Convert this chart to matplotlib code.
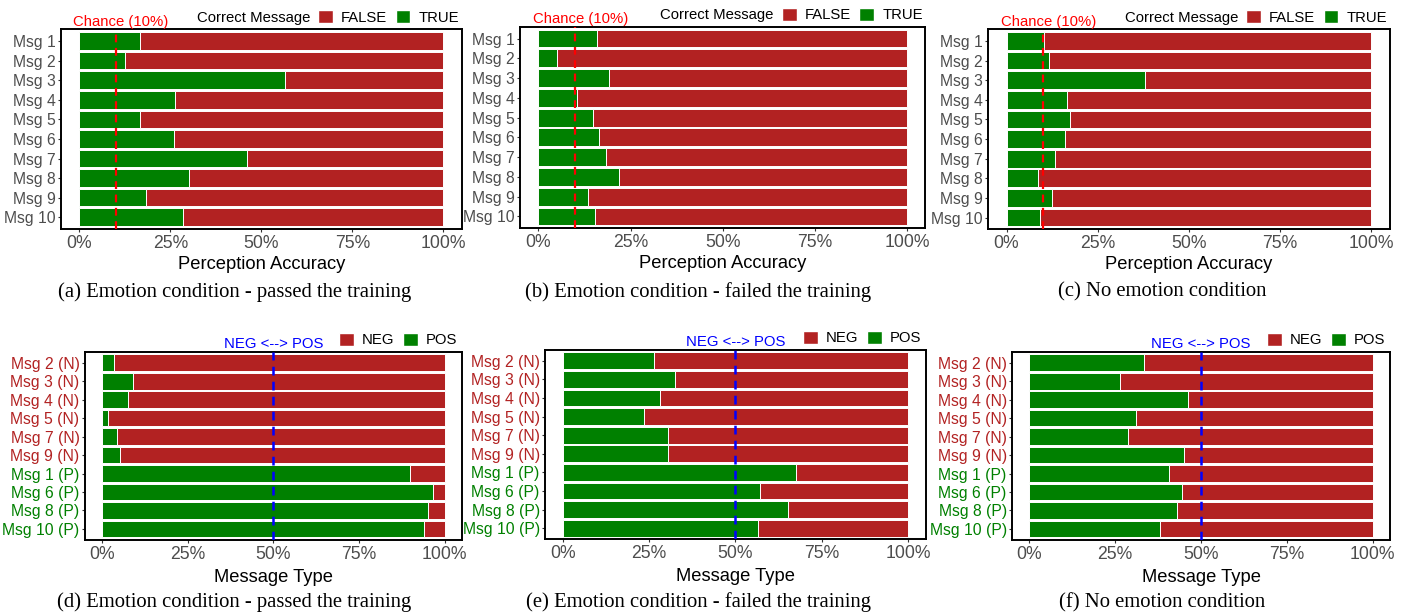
import matplotlib
matplotlib.use("Agg")
import matplotlib.pyplot as plt
from matplotlib.patches import Rectangle
import numpy as np

# ---------------- data ----------------
acc_msgs = ["Msg 1", "Msg 2", "Msg 3", "Msg 4", "Msg 5",
            "Msg 6", "Msg 7", "Msg 8", "Msg 9", "Msg 10"]
acc_true_a = [16.6, 12.7, 56.6, 26.4, 16.6, 25.9, 46.1, 30.2, 18.3, 28.4]
acc_true_b = [16.0, 5.1, 19.2, 10.6, 14.9, 16.4, 18.4, 21.9, 13.5, 15.3]
acc_true_c = [10.2, 11.7, 38.0, 16.6, 17.3, 16.1, 13.4, 8.5, 12.4, 9.1]

type_msgs = ["Msg 2 (N)", "Msg 3 (N)", "Msg 4 (N)", "Msg 5 (N)", "Msg 7 (N)",
             "Msg 9 (N)", "Msg 1 (P)", "Msg 6 (P)", "Msg 8 (P)", "Msg 10 (P)"]
type_kind = ["N", "N", "N", "N", "N", "N", "P", "P", "P", "P"]
pos_d = [3.5, 9.1, 7.7, 1.8, 4.2, 5.1, 89.9, 96.6, 95.2, 94.0]
pos_e = [26.3, 32.6, 28.2, 23.5, 30.5, 30.5, 67.4, 57.0, 65.1, 56.4]
pos_f = [33.4, 26.3, 46.1, 31.1, 28.7, 45.0, 40.8, 44.5, 43.1, 38.1]

CHANCE = 10
MIDLINE = 50
x_ticks = [0, 25, 50, 75, 100]
x_ticklabels = ["0%", "25%", "50%", "75%", "100%"]

captions_top = ["(a) Emotion condition - passed the training",
                "(b) Emotion condition - failed the training",
                "(c) No emotion condition"]
captions_bot = ["(d) Emotion condition - passed the training",
                "(e) Emotion condition - failed the training",
                "(f) No emotion condition"]

# ---------------- style ----------------
RED = "#B22222"
GREEN = "#008000"
TICKGRAY = "#4D4D4D"
SANS = ["Liberation Sans", "DejaVu Sans"]
SERIF = ["Liberation Serif", "DejaVu Serif"]

plt.rcParams["font.family"] = SANS

W, H = 1407, 614
fig = plt.figure(figsize=(W / 100, H / 100), dpi=100)


def rect(l, t, r, b):
    return [l / W, 1 - b / H, (r - l) / W, (b - t) / H]


def base_axes(box, labels, label_colors=None):
    ax = fig.add_axes(rect(*box))
    ax.set_xlim(-5, 105)
    ax.set_ylim(len(labels) - 0.4, -0.6)
    y = np.arange(len(labels))
    ax.set_yticks(y)
    ax.set_yticklabels(labels, fontsize=11.3)
    ax.set_xticks(x_ticks)
    ax.set_xticklabels(x_ticklabels, fontsize=12.7)
    ax.tick_params(axis="both", length=2.5, width=0.8, color="#333333",
                   labelcolor=TICKGRAY, pad=1.5)
    if label_colors is not None:
        for tl, c in zip(ax.get_yticklabels(), label_colors):
            tl.set_color(c)
    for s in ax.spines.values():
        s.set_color("black")
        s.set_linewidth(1.4)
    return ax, y


def bars(ax, y, green_vals):
    g = np.array(green_vals)
    ax.barh(y, 100 - g, left=g, height=0.9, color=RED, edgecolor="white",
            linewidth=0.7, zorder=2)
    ax.barh(y, g, left=0, height=0.9, color=GREEN, edgecolor="white",
            linewidth=0.7, zorder=2)


top_boxes = [(61, 29.3, 461.7, 229), (520, 26.7, 925.3, 228.3),
             (988.3, 29.3, 1389.7, 229.3)]
bot_boxes = [(85, 351.7, 461.7, 540), (545.3, 349.7, 925.7, 539.3),
             (1012.3, 351.7, 1389.7, 540)]
cap_x_top = [235, 698, 1162]
cap_x_bot = [234.5, 698, 1161.7]

top_data = [acc_true_a, acc_true_b, acc_true_c]
bot_data = [pos_d, pos_e, pos_f]

for box, vals, cap, cx in zip(top_boxes, top_data, captions_top, cap_x_top):
    ax, y = base_axes(box, acc_msgs)
    bars(ax, y, vals)
    ax.axvline(CHANCE, color="red", lw=1.6, ls=(0, (3.5, 2.5)), zorder=3)
    ax.annotate("Chance (10%)", xy=(CHANCE + 1.5, 1.0),
                xycoords=("data", "axes fraction"), xytext=(0, 0.5),
                textcoords="offset points", ha="center", va="bottom",
                color="red", fontsize=10.7)
    ax.set_xlabel("Perception Accuracy", fontsize=13.2, labelpad=3)
    blank = Rectangle((0, 0), 1, 1, alpha=0)
    hr = Rectangle((0, 0), 1, 1, facecolor=RED, edgecolor="white")
    hg = Rectangle((0, 0), 1, 1, facecolor=GREEN, edgecolor="white")
    ax.legend([blank, hr, hg], ["Correct Message", "FALSE", "TRUE"],
              ncol=3, loc="lower right", bbox_to_anchor=(1.005, 1.0),
              frameon=False, fontsize=10.7, handlelength=1.0,
              handleheight=1.0, handletextpad=0.55, columnspacing=0.55,
              borderaxespad=0.0, borderpad=0.3)
    fig.text(cx / W, 1 - 292 / H, cap, ha="center", va="center",
             fontsize=14.9, family=SERIF)

for box, vals, cap, cx in zip(bot_boxes, bot_data, captions_bot, cap_x_bot):
    colors = [RED if k == "N" else GREEN for k in type_kind]
    ax, y = base_axes(box, type_msgs, colors)
    bars(ax, y, vals)
    ax.axvline(MIDLINE, color="blue", lw=1.8, ls=(0, (3.5, 2.5)), zorder=3)
    ax.annotate("NEG <--> POS", xy=(MIDLINE, 1.0),
                xycoords=("data", "axes fraction"), xytext=(0, 0.3),
                textcoords="offset points", ha="center", va="bottom",
                color="blue", fontsize=10.7)
    ax.set_xlabel("Message Type", fontsize=13.2, labelpad=4.5)
    hr = Rectangle((0, 0), 1, 1, facecolor=RED, edgecolor="white")
    hg = Rectangle((0, 0), 1, 1, facecolor=GREEN, edgecolor="white")
    ax.legend([hr, hg], ["NEG", "POS"], ncol=2, loc="lower right",
              bbox_to_anchor=(1.0, 1.0), frameon=False, fontsize=10.7,
              handlelength=1.0, handleheight=1.0, handletextpad=0.55,
              columnspacing=0.55, borderaxespad=0.0, borderpad=0.3)
    fig.text(cx / W, 1 - 602.5 / H, cap, ha="center", va="center",
             fontsize=14.9, family=SERIF)

fig.savefig("out.png", dpi=100)
